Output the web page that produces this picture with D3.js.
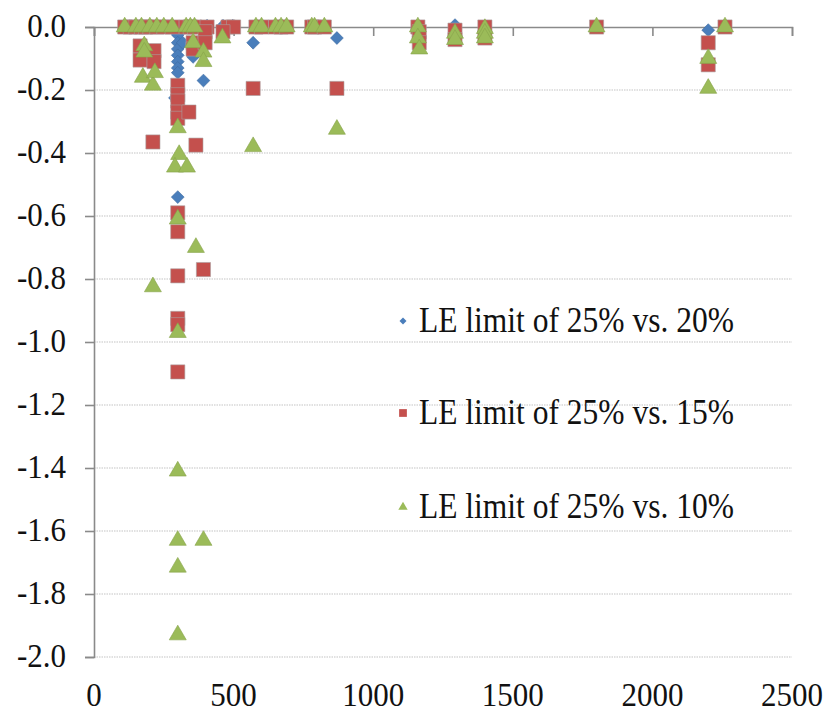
<!DOCTYPE html>
<html>
<head>
<meta charset="utf-8">
<script src="https://cdn.jsdelivr.net/npm/d3@7"></script>
<style>
  html, body { margin: 0; padding: 0; background: #fff; }
  svg text { font-family: "Liberation Serif", Tinos, "Times New Roman", Times, "DejaVu Serif", serif; fill: #111; }
</style>
</head>
<body>
<svg id="chart" width="829" height="715"></svg>
<script>
// x positions and differences, one list of [x, y] per series
const vs20 = [
  [110, 0], [150, 0], [200, 0], [250, 0], [280, 0], [330, 0], [360, 0], [405, 0.004],
  [462, 0.004], [497, 0.004], [580, 0], [650, 0], [690, 0], [780, 0], [825, 0],
  [1160, 0], [1293, 0.006], [1400, 0], [1800, 0], [2260, 0],
  [300, -0.025], [300, -0.05], [300, -0.07], [300, -0.09], [300, -0.11], [300, -0.13],
  [300, -0.145], [290, -0.225], [300, -0.54], [318, -0.05], [355, -0.095], [392, -0.17],
  [570, -0.05], [870, -0.035], [2200, -0.01]
];
const vs15 = [
  [110, 0], [130, 0], [150, 0], [170, 0], [185, 0], [200, 0], [225, 0], [250, 0],
  [280, 0], [330, 0], [345, 0], [360, 0], [405, 0], [480, 0], [500, 0], [580, 0],
  [600, 0], [650, 0], [670, 0], [690, 0], [780, 0], [790, 0], [825, 0],
  [1160, 0], [1400, 0], [1800, 0], [2260, 0],
  [165, -0.06], [215, -0.075], [165, -0.105], [215, -0.11], [211, -0.365],
  [300, -0.185], [300, -0.215], [300, -0.235], [300, -0.27], [300, -0.29],
  [300, -0.59], [300, -0.65], [300, -0.79], [300, -0.925], [300, -0.945], [300, -1.095],
  [340, -0.27], [355, -0.05], [355, -0.07], [365, -0.375], [398, -0.015], [398, -0.05],
  [392, -0.77], [462, -0.015], [570, -0.195], [870, -0.195],
  [1165, -0.015], [1165, -0.05], [1293, -0.01], [1293, -0.04], [1400, -0.035],
  [2200, -0.05], [2200, -0.12]
];
const vs10 = [
  [110, 0], [150, 0], [170, 0], [200, 0], [225, 0], [250, 0], [280, 0], [330, 0],
  [345, 0], [360, 0], [580, 0], [600, 0], [650, 0], [670, 0], [690, 0], [780, 0],
  [790, 0], [825, 0], [1160, 0], [1400, -0.005], [1800, 0], [2260, 0],
  [180, -0.06], [180, -0.08], [175, -0.16], [211, -0.185], [218, -0.145], [211, -0.825],
  [300, -0.32], [305, -0.405], [290, -0.445], [300, -0.61], [300, -0.97], [300, -1.41],
  [300, -1.63], [300, -1.715], [300, -1.93],
  [333, -0.445], [355, -0.05], [365, -0.70], [392, -0.08], [392, -0.11], [392, -1.63],
  [460, -0.035], [570, -0.38], [870, -0.325],
  [1160, -0.035], [1165, -0.07], [1293, -0.02], [1293, -0.04], [1400, -0.02], [1400, -0.035],
  [2200, -0.10], [2200, -0.195]
];
const seriesNames = ['LE limit of 25% vs. 20%', 'LE limit of 25% vs. 15%', 'LE limit of 25% vs. 10%'];
const xTicks = [0, 500, 1000, 1500, 2000, 2500];
const yTicks = [0, -0.2, -0.4, -0.6, -0.8, -1.0, -1.2, -1.4, -1.6, -1.8, -2.0];

const svg = d3.select('#chart');
const x = d3.scaleLinear().domain([0, 2500]).range([94, 792]);
const y = d3.scaleLinear().domain([-2, 0]).range([657, 27]);

const axisGrey = '#8a8a8a';
const textScale = 'scale(1,1.12)';

// dotted gridlines
svg.append('g')
  .selectAll('line')
  .data(yTicks.filter((d) => d !== 0))
  .join('line')
  .attr('x1', x(0)).attr('x2', x(2500))
  .attr('y1', (d) => y(d)).attr('y2', (d) => y(d))
  .attr('stroke', '#c4c4c4')
  .attr('stroke-width', 1.2)
  .attr('stroke-dasharray', '1.5,1');

// y axis on the left, x axis sitting at zero (top)
const yAxis = svg.append('g')
  .attr('transform', `translate(${x(0)},0)`)
  .call(d3.axisLeft(y).tickValues(yTicks).tickSize(9).tickFormat(''));
const xAxis = svg.append('g')
  .attr('transform', `translate(0,${y(0)})`)
  .call(d3.axisBottom(x).tickValues(xTicks).tickSize(9).tickFormat('').tickSizeOuter(9));
[yAxis, xAxis].forEach((g) => {
  g.selectAll('path, line').attr('stroke', axisGrey).attr('stroke-width', 1.6);
});

// tick labels
svg.append('g')
  .selectAll('text')
  .data(yTicks)
  .join('text')
  .attr('transform', (d) => `translate(66,${y(d) + 10}) ${textScale}`)
  .attr('text-anchor', 'end')
  .style('font-size', '31px')
  .text((d) => d3.format('.1f')(d).replace('−', '-'));

svg.append('g')
  .selectAll('text')
  .data(xTicks)
  .join('text')
  .attr('transform', (d) => `translate(${x(d)},706) ${textScale}`)
  .attr('text-anchor', 'middle')
  .style('font-size', '31px')
  .text((d) => d);

// markers
const styles = [
  { data: vs20, shape: d3.symbolDiamond2, size: 105, fill: '#4a7ebb', stroke: '#3d6aa0' },
  { data: vs15, shape: d3.symbolSquare, size: 200, fill: '#c4504d', stroke: '#a9a0a0' },
  { data: vs10, shape: d3.symbolTriangle, size: 125, fill: '#9bbb59', stroke: '#86a24a' },
];

styles.forEach((s) => {
  svg.append('g')
    .selectAll('path')
    .data(s.data)
    .join('path')
    .attr('transform', (d) => `translate(${x(d[0])},${y(d[1])})`)
    .attr('d', d3.symbol().type(s.shape).size(s.size))
    .attr('fill', s.fill)
    .attr('stroke', s.stroke)
    .attr('stroke-width', 0.6);
});

// legend
const legendRows = [321, 413, 507];
const legend = svg.append('g');
styles.forEach((s, i) => {
  legend.append('path')
    .attr('transform', `translate(403,${legendRows[i]})`)
    .attr('d', d3.symbol().type(s.shape).size(s.size * 0.3))
    .attr('fill', s.fill);
  legend.append('text')
    .attr('transform', `translate(419,${legendRows[i] + 11}) ${textScale}`)
    .style('font-size', '31.5px')
    .text(seriesNames[i]);
});
</script>
</body>
</html>
